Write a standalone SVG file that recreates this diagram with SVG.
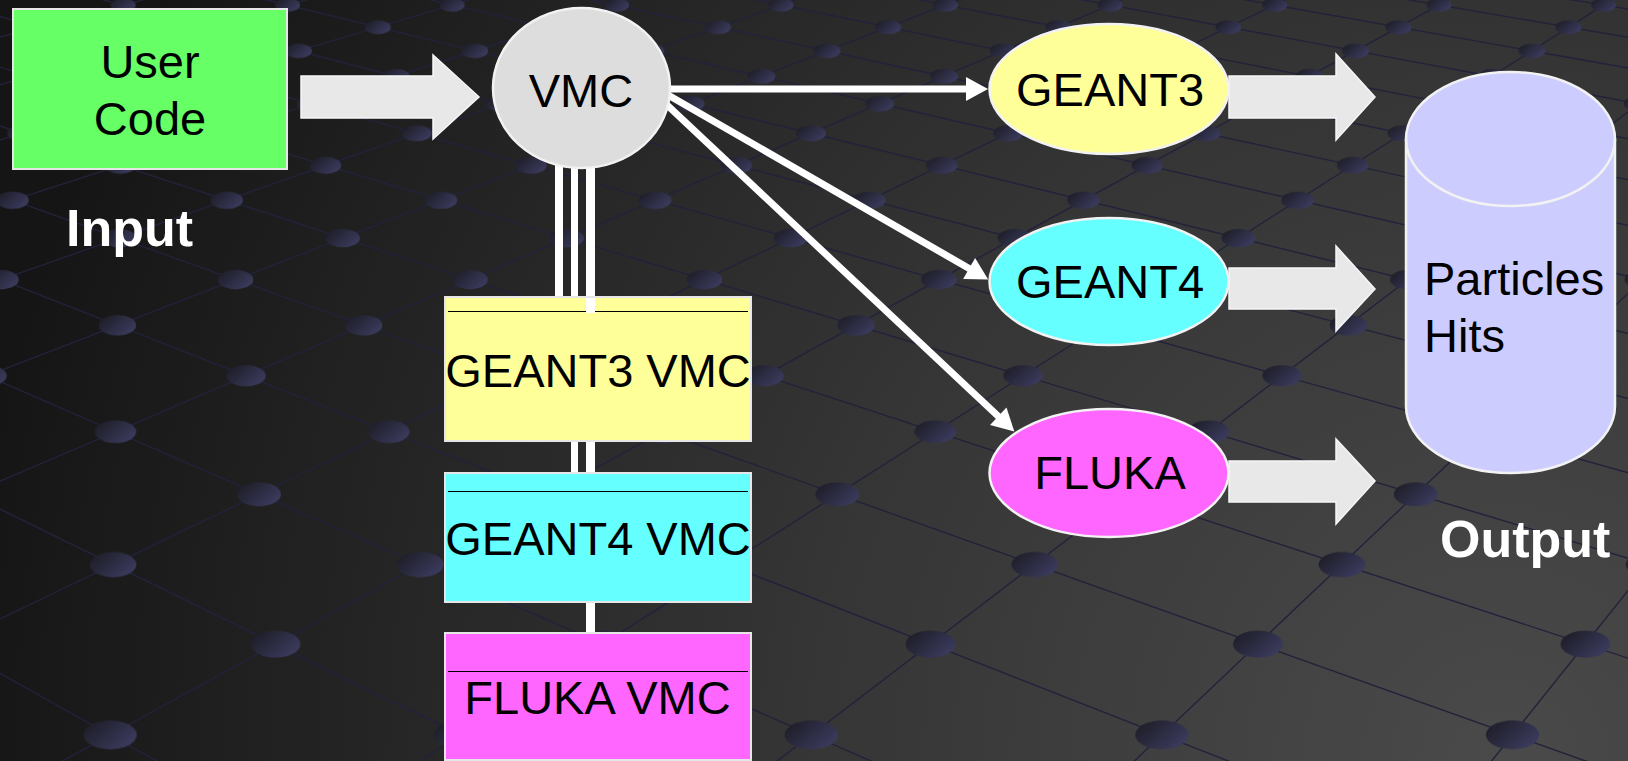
<svg xmlns="http://www.w3.org/2000/svg" width="1628" height="761" viewBox="0 0 1628 761">
  <style>
    .lbl { font-family: "Liberation Sans", Arial, sans-serif; font-size: 47px; fill: #000; }
    .big { font-family: "Liberation Sans", Arial, sans-serif; font-size: 52px; font-weight: bold; fill: #fff; }
    .shape { stroke: #f2f2f2; stroke-width: 2.5; }
    .box { stroke: #e6e6e6; stroke-width: 2; }
    .sep { stroke: #000; stroke-width: 1.2; }
    .blk { fill: #e8e8e8; stroke: #f6f6f6; stroke-width: 1.5; }
    .wire { stroke: #fff; stroke-width: 7; fill: none; marker-end: url(#head); }
    .bar { fill: #fff; }
    .gl { stroke: #22223c; stroke-width: 1.4; fill: none; }
    .row { fill: url(#dots); }
  </style>
  <defs>
    <radialGradient id="bg" gradientUnits="userSpaceOnUse" cx="1500" cy="761" r="1550">
      <stop offset="0" stop-color="#4a4a4a"/>
      <stop offset="0.45" stop-color="#353535"/>
      <stop offset="1" stop-color="#151515"/>
    </radialGradient>
    <linearGradient id="dot" x1="0" y1="0" x2="1" y2="0.6">
      <stop offset="0" stop-color="#1a1a22"/>
      <stop offset="1" stop-color="#3a3a5c"/>
    </linearGradient>
    <pattern id="dots" patternUnits="userSpaceOnUse" width="100" height="100">
      <ellipse cx="50" cy="50" rx="7.6" ry="4.1" fill="url(#dot)"/>
    </pattern>
    <marker id="head" markerUnits="userSpaceOnUse" markerWidth="24" markerHeight="26" refX="1" refY="12" orient="auto" overflow="visible">
      <path d="M0,0 L22,12 L0,24 Z" fill="#fff"/>
    </marker>
  </defs>

  <rect width="1628" height="761" fill="url(#bg)"/>

  <g id="floor-grid">
    <path class="gl" d="M296.8,839.6 L-1229.7,-15.7 M674.1,839.6 L-1070.5,-15.7 M1051.4,839.6 L-911.3,-15.7 M1428.7,839.6 L-752.1,-15.7 M1806,839.6 L-592.9,-15.7 M2183.3,839.6 L-433.7,-15.7 M2560.6,839.6 L-274.5,-15.7 M2937.9,839.6 L-115.3,-15.7 M3315.2,839.6 L43.9,-15.7 M3692.5,839.6 L203.1,-15.7 M4069.8,839.6 L362.3,-15.7 M4447.1,839.6 L521.5,-15.7 M4824.4,839.6 L680.7,-15.7 M5201.7,839.6 L839.9,-15.7 M5579,839.6 L999.1,-15.7 M5956.3,839.6 L1158.3,-15.7 M6333.6,839.6 L1317.5,-15.7 M6710.9,839.6 L1476.7,-15.7"/>
    <path class="gl" d="M-3476.2,839.6 L43.9,-15.7 M-3098.9,839.6 L203.1,-15.7 M-2721.6,839.6 L362.3,-15.7 M-2344.3,839.6 L521.5,-15.7 M-1967,839.6 L680.7,-15.7 M-1589.7,839.6 L839.9,-15.7 M-1212.4,839.6 L999.1,-15.7 M-835.1,839.6 L1158.3,-15.7 M-457.8,839.6 L1317.5,-15.7 M-80.5,839.6 L1476.7,-15.7 M296.8,839.6 L1635.9,-15.7 M674.1,839.6 L1795.1,-15.7 M1051.4,839.6 L1954.3,-15.7 M1428.7,839.6 L2113.5,-15.7"/>
    <rect class="row" x="-300" y="44" width="1300" height="12" transform="translate(285.4,559.6) scale(3.506)"/>
    <rect class="row" x="-300" y="44" width="1300" height="12" transform="translate(111.7,480.35) scale(3.275)"/>
    <rect class="row" x="-300" y="44" width="1300" height="12" transform="translate(266.7,411) scale(3.072)"/>
    <rect class="row" x="-300" y="44" width="1300" height="12" transform="translate(114.4,349.7) scale(2.892)"/>
    <rect class="row" x="-300" y="44" width="1300" height="12" transform="translate(252.1,295.05) scale(2.733)"/>
    <rect class="row" x="-300" y="44" width="1300" height="12" transform="translate(116.5,246.2) scale(2.59)"/>
    <rect class="row" x="-300" y="44" width="1300" height="12" transform="translate(240.5,202.2) scale(2.462)"/>
    <rect class="row" x="-300" y="44" width="1300" height="12" transform="translate(118.2,162.35) scale(2.345)"/>
    <rect class="row" x="-300" y="44" width="1300" height="12" transform="translate(230.9,126.15) scale(2.239)"/>
    <rect class="row" x="-300" y="44" width="1300" height="12" transform="translate(119.6,93.1) scale(2.142)"/>
    <rect class="row" x="-300" y="44" width="1300" height="12" transform="translate(222.9,62.7) scale(2.054)"/>
    <rect class="row" x="-300" y="44" width="1300" height="12" transform="translate(120.8,34.7) scale(1.972)"/>
    <rect class="row" x="-300" y="44" width="1300" height="12" transform="translate(216.1,8.9) scale(1.896)"/>
    <rect class="row" x="-300" y="44" width="1300" height="12" transform="translate(121.8,-15.05) scale(1.827)"/>
    <rect class="row" x="-300" y="44" width="1300" height="12" transform="translate(210.4,-37.2) scale(1.762)"/>
    <rect class="row" x="-300" y="44" width="1300" height="12" transform="translate(122.7,-57.85) scale(1.701)"/>
    <rect class="row" x="-300" y="44" width="1300" height="12" transform="translate(205.3,-77.25) scale(1.645)"/>
  </g>

  <g id="connectors">
    <rect class="bar" x="555" y="150" width="8" height="148"/>
    <rect class="bar" x="571" y="150" width="7" height="324"/>
    <rect class="bar" x="586" y="150" width="9" height="484"/>
    <polygon class="blk" points="301,76 433,76 433,55 479,97 433,139 433,118 301,118"/>
    <line class="wire" x1="668" y1="89" x2="967" y2="89"/>
    <line class="wire" x1="668" y1="95" x2="970" y2="269"/>
    <line class="wire" x1="666" y1="104" x2="999" y2="417"/>
    <polygon class="blk" points="1229,76 1336,76 1336,54 1375,97 1336,140 1336,118 1229,118"/>
    <polygon class="blk" points="1229,268 1336,268 1336,246 1375,289 1336,331 1336,309 1229,309"/>
    <polygon class="blk" points="1229,461 1336,461 1336,439 1375,481 1336,524 1336,502 1229,502"/>
  </g>

  <g id="user-code">
    <rect class="box" x="13" y="9" width="274" height="160" fill="#66ff66"/>
    <text class="lbl" x="150" y="78" text-anchor="middle">User</text>
    <text class="lbl" x="150" y="135" text-anchor="middle">Code</text>
  </g>

  <g id="input-label">
    <text class="big" x="66" y="246">Input</text>
  </g>

  <g id="vmc">
    <ellipse class="shape" cx="581.5" cy="88" rx="88.5" ry="80" fill="#dddddd"/>
    <text class="lbl" x="581" y="107" text-anchor="middle">VMC</text>
  </g>

  <g id="geant3-vmc">
    <rect class="box" x="445" y="297" width="306" height="144" fill="#ffff99"/>
    <line class="sep" x1="448" y1="311.5" x2="748" y2="311.5"/>
    <rect class="bar" x="586" y="298" width="9" height="15"/>
    <text class="lbl" x="598" y="387" text-anchor="middle">GEANT3 VMC</text>
  </g>

  <g id="geant4-vmc">
    <rect class="box" x="445" y="473" width="306" height="129" fill="#66ffff"/>
    <line class="sep" x1="448" y1="491.5" x2="748" y2="491.5"/>
    <text class="lbl" x="598" y="555" text-anchor="middle">GEANT4 VMC</text>
  </g>

  <g id="fluka-vmc">
    <rect class="box" x="445" y="633" width="306" height="127" fill="#ff66ff"/>
    <line class="sep" x1="448" y1="671.5" x2="748" y2="671.5"/>
    <text class="lbl" x="597.5" y="714" text-anchor="middle">FLUKA VMC</text>
  </g>

  <g id="geant3">
    <ellipse class="shape" cx="1109" cy="89" rx="119.5" ry="65" fill="#ffff99"/>
    <text class="lbl" x="1110" y="106" text-anchor="middle">GEANT3</text>
  </g>

  <g id="geant4">
    <ellipse class="shape" cx="1109" cy="281.5" rx="119.5" ry="63.5" fill="#66ffff"/>
    <text class="lbl" x="1110" y="298" text-anchor="middle">GEANT4</text>
  </g>

  <g id="fluka">
    <ellipse class="shape" cx="1109" cy="473" rx="119.5" ry="64" fill="#ff66ff"/>
    <text class="lbl" x="1110" y="489" text-anchor="middle">FLUKA</text>
  </g>

  <g id="output-store">
    <path class="shape" d="M1406,139 A104.5,67 0 0 1 1615,139 L1615,406 A104.5,67 0 0 1 1406,406 Z" fill="#ccccff"/>
    <path class="shape" d="M1406,139 A104.5,67 0 0 0 1615,139" fill="none"/>
    <text class="lbl" x="1424" y="295">Particles</text>
    <text class="lbl" x="1424" y="352">Hits</text>
  </g>

  <g id="output-label">
    <text class="big" x="1440" y="557">Output</text>
  </g>
</svg>
